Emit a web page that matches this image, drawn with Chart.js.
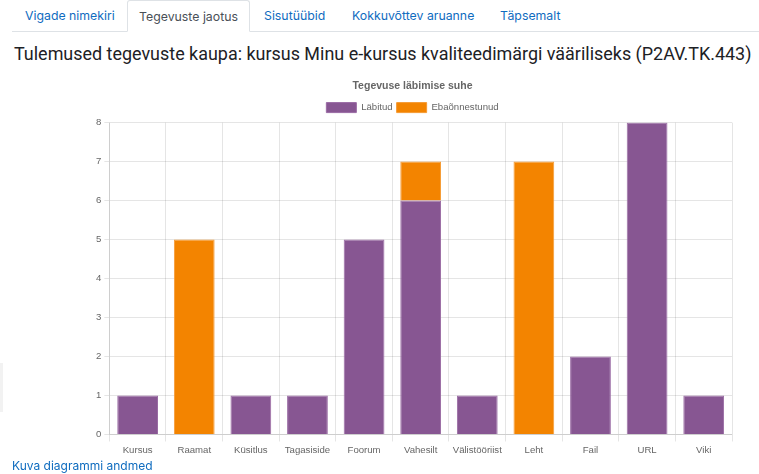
<!DOCTYPE html>
<html>
<head>
<meta charset="utf-8">
<script src="https://cdn.jsdelivr.net/npm/chart.js@4"></script>
<style>
  body { margin: 0; width: 759px; height: 474px; overflow: hidden; background: #fff; position: relative; font-family: Inter, "Noto Sans", sans-serif; }
  .tabs { position: absolute; left: 12px; top: 0; width: 747px; height: 31px; border-bottom: 1px solid #dee2e6; }
  .tab { position: absolute; top: 0; height: 31px; line-height: 31px; font-size: 12.3px; color: #0f6cbf; }
  .tab.active { color: #495057; border: 1px solid #dee2e6; border-bottom: 1px solid #fff; border-radius: 3px 3px 0 0; background: #fff; box-sizing: border-box; height: 32px; text-align: center; }
  h2 { position: absolute; left: 14px; top: 43px; margin: 0; font-weight: 400; font-size: 18px; color: #1d2125; white-space: nowrap; font-family: Roboto, sans-serif; }
  #wrap { position: absolute; left: 66px; top: 70px; }
  .link { position: absolute; left: 12px; top: 458px; font-size: 12px; color: #0f6cbf; }
  .side { position: absolute; left: 0; top: 363px; width: 3px; height: 49px; background: #f2f2f2; }
</style>
</head>
<body>
<div class="tabs">
  <div class="tab" style="left:13px">Vigade nimekiri</div>
  <div class="tab active" style="left:115px;width:123px">Tegevuste jaotus</div>
  <div class="tab" style="left:252px">Sisutüübid</div>
  <div class="tab" style="left:340px">Kokkuvõttev aruanne</div>
  <div class="tab" style="left:488px">Täpsemalt</div>
</div>
<h2 id="heading">Tulemused tegevuste kaupa: kursus Minu e-kursus kvaliteedimärgi vääriliseks (P2AV.TK.443)</h2>
<div class="side"></div>
<div id="wrap"><canvas id="chart" width="692" height="389"></canvas></div>
<div class="link">Kuva diagrammi andmed</div>
<script>
  const categories = ['Kursus', 'Raamat', 'Küsitlus', 'Tagasiside', 'Foorum', 'Vahesilt', 'Välistööriist', 'Leht', 'Fail', 'URL', 'Viki'];
  const passed = [1, 0, 1, 1, 5, 6, 1, 0, 2, 8, 1];
  const failed = [0, 5, 0, 0, 0, 1, 0, 7, 0, 0, 0];
  const yTicks = [0, 1, 2, 3, 4, 5, 6, 7, 8];

  // fit the heading to the width it has in the original page
  const heading = document.getElementById('heading');
  heading.style.fontSize = (18 * 738 / heading.getBoundingClientRect().width) + 'px';

  Chart.defaults.font.family = '"Liberation Sans", Arial, sans-serif';
  Chart.defaults.font.size = 9.6;
  Chart.defaults.color = '#666';

  const ctx = document.getElementById('chart').getContext('2d');
  new Chart(ctx, {
    type: 'bar',
    data: {
      labels: categories,
      datasets: [{
        label: 'Läbitud',
        data: passed,
        backgroundColor: '#875692',
        borderColor: '#9a6ba4',
        borderWidth: 1
      }, {
        label: 'Ebaõnnestunud',
        data: failed,
        backgroundColor: '#f38400',
        borderColor: '#f59a33',
        borderWidth: 1
      }]
    },
    options: {
      responsive: false,
      animation: false,
      layout: { padding: { left: 27, right: 26, top: 0, bottom: 0 } },
      plugins: {
        title: {
          display: true,
          text: 'Tegevuse läbimise suhe',
          font: { size: 10.5, weight: 'bold' },
          color: '#666',
          padding: { top: 10, bottom: 6 }
        },
        legend: {
          labels: { boxWidth: 30, boxHeight: 10, padding: 4 }
        },
        tooltip: { enabled: false }
      },
      scales: {
        x: {
          stacked: true,
          grid: { color: 'rgba(0,0,0,0.1)', tickLength: 7 },
          ticks: { maxRotation: 0 }
        },
        y: {
          stacked: true,
          min: 0,
          max: yTicks[yTicks.length - 1],
          afterBuildTicks: axis => { axis.ticks = yTicks.map(v => ({ value: v })); },
          grid: { color: 'rgba(0,0,0,0.1)', tickLength: 5 },
          ticks: { padding: 3 }
        }
      }
    }
  });
</script>
</body>
</html>
